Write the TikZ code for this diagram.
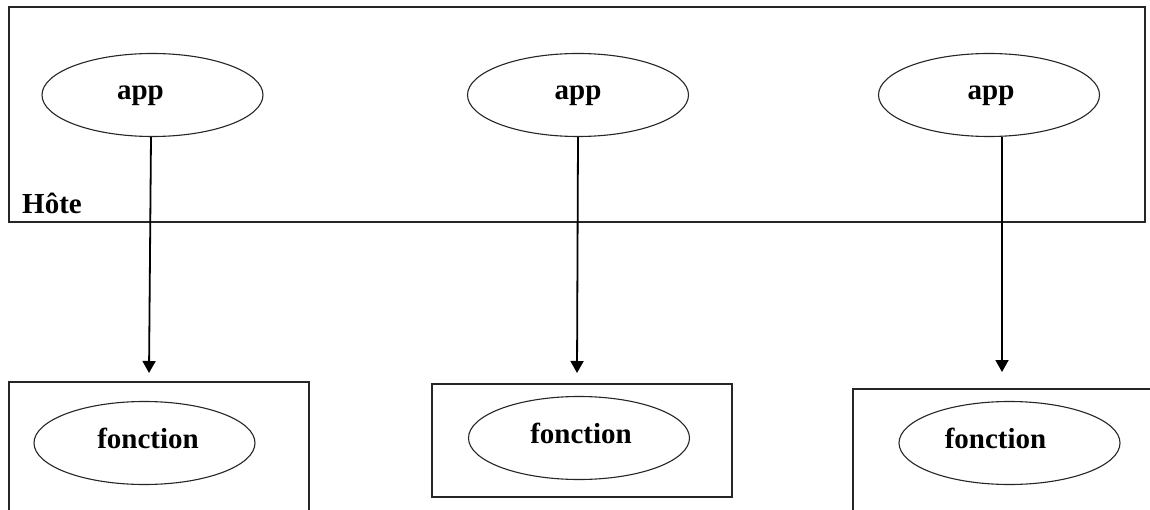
\documentclass[tikz,border=0pt]{standalone}
\usepackage{fontspec}
\setmainfont{Liberation Serif}
\usetikzlibrary{shapes.geometric,arrows.meta}
\begin{document}
\begin{tikzpicture}[x=1pt,y=-1pt,
  frame/.style={draw=black!85,line width=1.3pt},
  oval/.style={ellipse,draw=black!85,line width=1.1pt,minimum width=221pt,minimum height=83pt,inner sep=0pt},
  lbl/.style={font=\fontsize{29}{34}\selectfont\bfseries,inner sep=0pt,anchor=base},
  link/.style={line width=1.8pt,-{Triangle[width=13pt,length=12pt]}}]
\clip (0,0) rectangle (1150,510);
\fill[white] (0,0) rectangle (1150,510);

% host frame
\draw[frame] (9,7) rectangle (1145,222);
\node[lbl,anchor=base west] (hote) at (22,214) {Hôte};

% applications on the host
\node[oval] (e1) at (152.5,95) {};
\node[oval] (e2) at (578,95) {};
\node[oval] (e3) at (989,95) {};
\node[lbl] (app1) at (140.5,100) {app};
\node[lbl] (app2) at (578,100) {app};
\node[lbl] (app3) at (991,100) {app};

% function containers
\draw[frame] (9,530) -- (9,382) -- (309,382) -- (309,530);
\draw[frame] (432,384) rectangle (732,497);
\draw[frame] (853,530) -- (853,389) -- (1160,389);

\node[oval] (f1) at (144.5,443) {};
\node[oval] (f2) at (579,438) {};
\node[oval] (f3) at (1009.5,443) {};
\node[lbl] (fn1) at (148,448) {fonction};
\node[lbl] (fn2) at (581,443) {fonction};
\node[lbl] (fn3) at (995.5,448) {fonction};

% calls
\coordinate (t1) at (149,373);
\coordinate (t2) at (577,373);
\coordinate (t3) at (1002,372);
\draw[link] ([xshift=-1.5pt]e1.south) -- (t1);
\draw[link] (e2.south) -- (t2);
\draw[link] ([xshift=13pt]e3.south) -- (t3);
\end{tikzpicture}
\end{document}
